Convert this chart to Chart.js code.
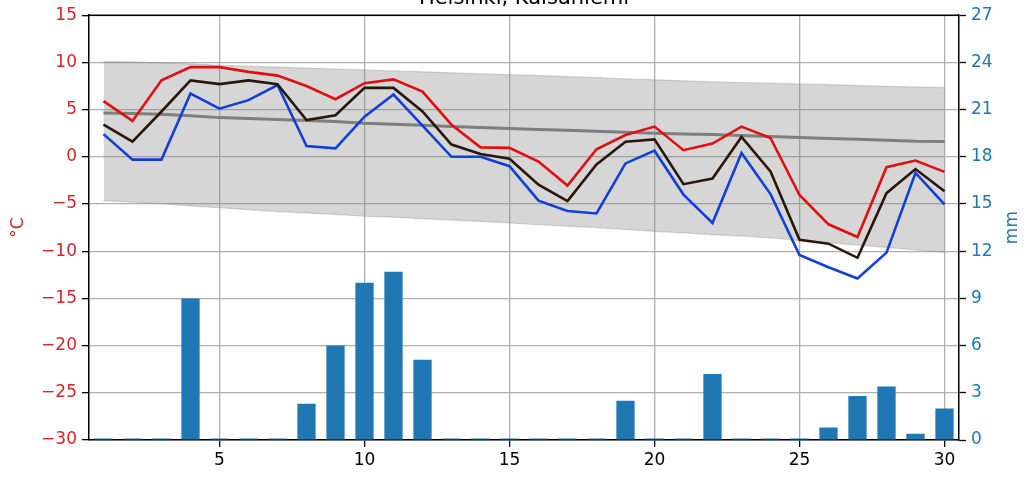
<!DOCTYPE html>
<html>
<head>
<meta charset="utf-8">
<script src="https://cdn.jsdelivr.net/npm/chart.js@4.4.1/dist/chart.umd.min.js"></script>
<style>
html,body{margin:0;padding:0;background:#fff;}
canvas{display:block;}
</style>
</head>
<body>
<canvas id="c" width="1034" height="484"></canvas>
<script>
const titleText = "Helsinki, Kaisaniemi";
const days = [1,2,3,4,5,6,7,8,9,10,11,12,13,14,15,16,17,18,19,20,21,22,23,24,25,26,27,28,29,30];
const tMax = [5.9,3.8,8.1,9.5,9.5,9.0,8.6,7.5,6.1,7.8,8.2,6.9,3.4,1.0,0.95,-0.5,-3.05,0.8,2.3,3.2,0.7,1.4,3.2,2.0,-4.05,-7.15,-8.5,-1.1,-0.4,-1.6];
const tAvg = [3.4,1.6,4.8,8.1,7.7,8.1,7.7,3.9,4.4,7.3,7.3,4.8,1.3,0.3,-0.2,-2.95,-4.7,-0.8,1.6,1.85,-2.9,-2.3,2.1,-1.55,-8.8,-9.2,-10.7,-3.85,-1.3,-3.65];
const tMin = [2.4,-0.3,-0.3,6.7,5.1,6.0,7.6,1.15,0.9,4.25,6.6,3.3,0.0,0.0,-1.0,-4.65,-5.75,-6.0,-0.7,0.65,-4.0,-7.0,0.4,-3.95,-10.4,-11.7,-12.9,-10.15,-1.7,-5.05];
const normMean = [4.65,4.6,4.5,4.35,4.15,4.05,3.95,3.85,3.75,3.55,3.45,3.35,3.2,3.1,3.0,2.9,2.8,2.7,2.6,2.5,2.42,2.35,2.25,2.15,2.05,1.95,1.85,1.75,1.65,1.62];
const normHigh = [10.1,10.05,9.95,9.85,9.7,9.6,9.5,9.4,9.3,9.2,9.1,9.0,8.9,8.8,8.7,8.6,8.5,8.4,8.25,8.15,8.05,7.95,7.87,7.8,7.72,7.65,7.55,7.47,7.4,7.33];
const normLow = [-4.65,-4.8,-4.95,-5.2,-5.4,-5.6,-5.8,-5.95,-6.1,-6.3,-6.4,-6.55,-6.7,-6.85,-7.0,-7.2,-7.35,-7.5,-7.7,-7.9,-8.05,-8.25,-8.4,-8.6,-8.85,-9.1,-9.35,-9.6,-9.85,-10.1];
const precip = [0.1,0.1,0.1,9.0,0.1,0.1,0.1,2.3,6.0,10.0,10.7,5.1,0.1,0.1,0.1,0.1,0.1,0.1,2.5,0.1,0.1,4.2,0.1,0.1,0.1,0.8,2.8,3.4,0.4,2.0];
const xTicks = [5,10,15,20,25,30];
const tempTicks = [-30,-25,-20,-15,-10,-5,0,5,10,15];
const mmTicks = [0,3,6,9,12,15,18,21,24,27];

const pts = arr => days.map((d,i)=>({x:d,y:arr[i]}));
const FONT = "DejaVu Sans";
const RED = "#d62728", BLUE = "#1f77b4";

const overlay = {
  id:'overlay',
  afterDraw(chart){
    const ctx = chart.ctx, a = chart.chartArea;
    ctx.save();
    ctx.strokeStyle = '#000'; ctx.lineWidth = 1.5;
    ctx.beginPath(); ctx.moveTo(a.left, a.top); ctx.lineTo(a.right, a.top); ctx.stroke();
    ctx.fillStyle = '#000';
    ctx.font = "21px '" + FONT + "'";
    ctx.textAlign = 'center'; ctx.textBaseline = 'alphabetic';
    ctx.fillText(titleText, (a.left + a.right)/2, 4);
    ctx.font = "17px '" + FONT + "'";
    const cy = (a.top + a.bottom)/2;
    ctx.fillStyle = RED;
    ctx.translate(19, cy); ctx.rotate(-Math.PI/2);
    ctx.textBaseline = 'middle';
    ctx.fillText('°C', 0, 0);
    ctx.setTransform(1,0,0,1,0,0);
    ctx.fillStyle = BLUE;
    ctx.translate(1013, cy); ctx.rotate(-Math.PI/2);
    ctx.fillText('mm', 0, 0);
    ctx.restore();
  }
};

const minus = v => (v < 0 ? '\u2212' + Math.abs(v) : String(v));

new Chart(document.getElementById('c'), {
  data: {
    datasets: [
      {type:'line', label:'max', data:pts(tMax), borderColor:'#e01010', borderWidth:2.6, pointRadius:0, tension:0, order:0, yAxisID:'y'},
      {type:'line', label:'min', data:pts(tMin), borderColor:'#1040d8', borderWidth:2.6, pointRadius:0, tension:0, order:1, yAxisID:'y'},
      {type:'line', label:'avg', data:pts(tAvg), borderColor:'#2a160a', borderWidth:2.6, pointRadius:0, tension:0, order:0.5, yAxisID:'y'},
      {type:'line', label:'norm', data:pts(normMean), borderColor:'#7f7f7f', borderWidth:3, pointRadius:0, tension:0, order:2, yAxisID:'y'},
      {type:'line', label:'high', data:pts(normHigh), borderColor:'rgba(128,128,128,0.3)', borderWidth:1.2, backgroundColor:'rgba(128,128,128,0.32)', fill:'+1', pointRadius:0, tension:0, order:3, yAxisID:'y'},
      {type:'line', label:'low', data:pts(normLow), borderColor:'rgba(128,128,128,0.3)', borderWidth:1.2, pointRadius:0, tension:0, fill:false, order:3.1, yAxisID:'y'},
      {type:'bar', label:'precip', data:pts(precip), backgroundColor:BLUE, borderWidth:0, barPercentage:0.63, categoryPercentage:1, order:4, yAxisID:'y2'}
    ]
  },
  options: {
    responsive:false, animation:false, devicePixelRatio:1,
    layout:{padding:{top:13,left:0,right:0,bottom:0}},
    plugins:{legend:{display:false}, tooltip:{enabled:false}, title:{display:false}},
    scales:{
      x:{type:'linear', position:'bottom', min:0.5, max:30.5, offset:false,
        afterBuildTicks: s => { s.ticks = xTicks.map(v=>({value:v})); },
        afterFit: s => { s.height = 44; },
        grid:{offset:false, color:'#b0b0b0', lineWidth:1.3, tickColor:'#000', tickLength:7, tickWidth:1.3},
        border:{display:true, color:'#000', width:1.5},
        ticks:{color:'#000', font:{family:FONT, size:17}, padding:3, maxRotation:0, callback:v=>String(v)}
      },
      y:{type:'linear', position:'left', min:-30, max:15,
        afterBuildTicks: s => { s.ticks = tempTicks.map(v=>({value:v})); },
        afterFit: s => { s.width = 89; },
        grid:{color:'#b0b0b0', lineWidth:1.3, tickColor:'#000', tickLength:7, tickWidth:1.3},
        border:{display:true, color:'#000', width:1.5},
        ticks:{color:RED, font:{family:FONT, size:17}, padding:5, callback:v=>minus(v)}
      },
      y2:{type:'linear', position:'right', min:0, max:27,
        afterBuildTicks: s => { s.ticks = mmTicks.map(v=>({value:v})); },
        afterFit: s => { s.width = 75; },
        grid:{drawOnChartArea:false, tickColor:'#000', tickLength:7, tickWidth:1.3},
        border:{display:true, color:'#000', width:1.5},
        ticks:{color:BLUE, font:{family:FONT, size:17}, padding:5, callback:v=>String(v)}
      }
    }
  },
  plugins:[overlay]
});
</script>
</body>
</html>
